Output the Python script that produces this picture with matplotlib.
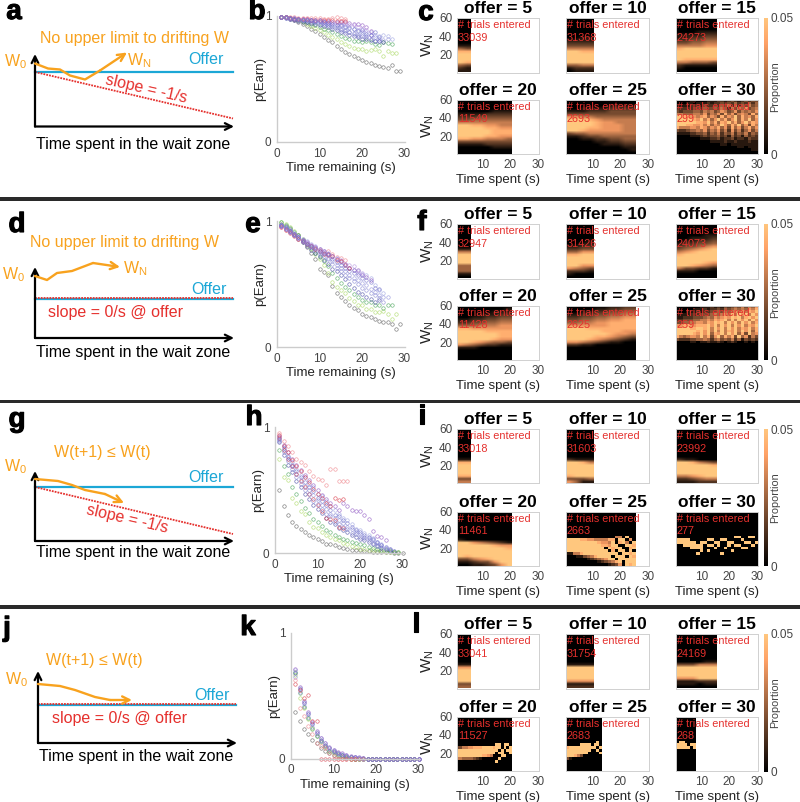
import matplotlib
matplotlib.use('Agg')
import matplotlib.pyplot as plt
import matplotlib.patheffects as pe
import numpy as np

plt.rcParams['font.family'] = ['Liberation Sans', 'DejaVu Sans']
plt.rcParams['mathtext.fontset'] = 'custom'
plt.rcParams['mathtext.rm'] = 'Liberation Sans'
plt.rcParams['mathtext.default'] = 'regular'

W, H = 800, 802
ORANGE = '#f8a21e'
BLUE = '#1ca7d6'
RED = '#e5302d'
GREY = '#444444'

# schematic drift curves (time, W), measured from each schematic's axis corner
a_time = [0, 13, 25, 35, 50, 65, 92]
a_w = [63, 58, 57, 51, 47, 56, 74]
d_time = [0, 12, 22, 37, 58, 85]
d_w = [62, 58, 65, 67, 75, 71]
g_time = [0, 23, 37, 50, 70, 89]
g_w = [62, 60, 56, 51, 47, 38]
j_time = [0, 22, 37, 57, 72, 94]
j_w = [59, 57, 53, 46, 43, 43]

# p(Earn) against time remaining, first value is at 1 s, one list per colour
curve_colors = ['#555555', '#a6d65a', '#3f9f4f', '#3c3f9f', '#8a8ad8', '#9aa0e0',
                '#8a4fc0', '#d62f3f', '#ee7f86']
b_colors = curve_colors + ['#7f7fd0', '#b08fe0', '#6a6ac8']
e_colors = curve_colors + ['#7f7fd0', '#b08fe0', '#6a6ac8']
h_colors = curve_colors + ['#d62f3f', '#7f7fd0', '#6a6ac8']
b_curves = [
    [.995, .99, .98, .97, .955, .94, .92, .90, .88, .86, .835, .81, .79, .76, .735, .715, .70, .68, .665, .65, .635, .63, .61, .60, .595, .59, .615, .56, .565],
    [.995, .99, .985, .975, .965, .95, .94, .92, .905, .885, .87, .85, .83, .815, .795, .775, .765, .75, .74, .735, .725, .73, .735, .72, .68, .72, .71, .71],
    [.995, .99, .985, .98, .97, .96, .95, .94, .93, .915, .90, .885, .87, .855, .84, .825, .815, .805, .80, .79, .80, .795, .78, .77, .79, .785, .78],
    [.995, .985, .975, .97, .96, .955, .95, .945, .94, .93, .92, .91, .90, .89, .875, .865, .85, .84, .83, .82, .815, .81, .80, .80, .79],
    [.995, .99, .985, .98, .975, .97, .965, .96, .955, .95, .94, .93, .92, .91, .90, .89, .875, .865, .85, .84, .84, .85, .83, .82, .81, .82],
    [.995, .99, .985, .985, .98, .975, .97, .965, .96, .955, .95, .945, .94, .93, .92, .92, .91, .90, .89, .875, .87, .87, .85, .84, .85, .84, .82],
    [.995, .99, .985, .985, .98, .98, .975, .97, .97, .965, .96, .96, .955, .95, .95, .95, .945, .94, .935, .93, .91, .88],
    [.995, .99, .985, .98, .98, .975, .975, .97, .97, .97, .97, .965, .965, .96, .96, .96],
    [.995, .995, .99, .99, .985, .985, .985, .985, .985, .985, .98, .98, .985, .99, .985, .98],
    [.995, .985, .98, .975, .97, .965, .96, .955, .95, .94, .935, .925, .915, .905, .89, .88, .87, .855, .845, .86, .83, .82, .80, .80],
    [.995, .99, .985, .985, .98, .975, .975, .97, .965, .965, .955, .955, .95, .945, .94, .935, .93, .925, .91, .90, .89, .85],
    [.995, .99, .985, .98, .975, .97, .97, .965, .96, .96, .955, .945, .94, .93, .93, .915, .905, .895, .88, .885, .86, .85, .87, .835],
]
e_curves = [
    [.98, .96, .94, .90, .885, .83, .79, .745, .70, .62, .595, .575, .485, .43, .40, .365, .335, .31, .29, .26, .25, .235, .22, .205, .20, .195, .18, .145, .185],
    [.995, .975, .95, .92, .89, .855, .81, .775, .74, .70, .65, .585, .515, .48, .45, .425, .39, .365, .335, .33, .305, .30, .275, .28, .285, .265, .22, .26],
    [.99, .97, .945, .91, .885, .85, .82, .785, .75, .715, .68, .64, .59, .55, .51, .48, .45, .42, .40, .375, .36, .36, .33, .33, .31, .33, .33],
    [.97, .95, .92, .89, .86, .83, .80, .77, .745, .72, .69, .66, .62, .60, .57, .54, .50, .47, .44, .42, .40, .38, .36, .37],
    [.97, .95, .93, .90, .875, .85, .825, .80, .78, .755, .735, .71, .68, .65, .625, .60, .575, .55, .53, .51, .49, .46, .44, .41, .40, .40],
    [.97, .95, .93, .905, .88, .86, .84, .815, .80, .78, .76, .74, .72, .70, .675, .65, .63, .61, .60, .58, .57, .55, .495, .45, .43],
    [.96, .94, .92, .90, .875, .85, .83, .81, .79, .775, .76, .74, .725, .70, .68, .66, .63, .615, .61, .57, .555, .53],
    [.95, .93, .905, .88, .86, .84, .815, .80, .78, .76, .74, .73, .72, .69, .68, .65, .63],
    [.95, .93, .91, .885, .86, .84, .82, .80, .785, .77, .75, .765, .74, .715, .71, .69],
    [.97, .945, .92, .895, .865, .84, .815, .79, .765, .74, .72, .695, .66, .625, .60, .57, .545, .52, .50, .47, .45, .43, .41, .39, .36],
    [.96, .935, .91, .885, .865, .845, .825, .805, .79, .77, .755, .745, .725, .705, .69, .66, .65, .64, .59, .585],
    [.96, .94, .915, .89, .87, .845, .82, .805, .785, .765, .75, .735, .70, .675, .65, .63, .60, .585, .57, .55, .53, .515, .47, .46],
]
h_curves = [
    [.50, .37, .30, .25, .215, .19, .17, .14, .125, .11, .095, .075, .07, .06, .05, .04, .03, .027, .02, .02, .015, .012, .01, .008, .006, .005, .004, .003, .002, .001],
    [.745, .605, .58, .44, .40, .335, .31, .245, .21, .195, .17, .14, .13, .11, .10, .08, .07, .055, .045, .035, .03, .025, .02, .015, .012, .01, .008, .006, .004],
    [.82, .69, .63, .525, .47, .41, .36, .315, .27, .25, .215, .18, .165, .145, .125, .11, .10, .09, .08, .07, .06, .05, .04, .03, .025, .02, .015, .01, .005],
    [.88, .78, .70, .64, .57, .52, .47, .43, .38, .35, .32, .28, .25, .23, .20, .18, .165, .145, .13, .11, .10, .085, .07, .055, .04, .035, .025, .015],
    [.92, .82, .77, .69, .63, .58, .53, .50, .46, .42, .38, .35, .31, .28, .26, .24, .21, .19, .17, .15, .13, .12, .10, .08, .06, .045, .03],
    [.90, .85, .75, .72, .67, .62, .60, .55, .52, .47, .45, .41, .37, .34, .31, .28, .26, .23, .19, .18, .16, .14, .12, .09, .07, .05],
    [.93, .86, .80, .75, .70, .66, .62, .58, .54, .50, .46, .43, .40, .37, .34, .40, .375, .345, .335, .335, .30, .27, .175, .135, .13, .10],
    [.94, .85, .80, .74, .69, .65, .60, .56, .51, .47, .44, .40, .37, .44, .42, .425],
    [.95, .89, .85, .80, .75, .72, .70, .65, .61, .59, .58, .54, .67, .67, .575, .575, .575],
    [.91, .82, .75, .69, .63, .57, .52, .47, .43, .38, .33, .275, .27, .26, .21, .20],
    [.89, .80, .73, .67, .60, .55, .50, .47, .41, .39, .35, .31, .29, .25, .23, .21, .19, .16, .15, .13, .12, .10, .08, .065, .05, .04, .03],
    [.905, .83, .76, .70, .65, .60, .56, .52, .49, .44, .41, .38, .34, .30, .29, .26, .235, .21, .18, .165, .145, .13, .11, .085, .065],
]
k_curves = [
    [.37, .295, .235, .195, .15, .125, .08, .06, .04, .03, .02, .01, .005, 0, 0, 0, 0, 0, 0, 0, 0, 0, 0, 0, 0, 0, 0, 0, 0, 0],
    [.66, .48, .40, .31, .24, .18, .13, .09, .06, .04, .03, .02, .01, 0, 0, 0, 0, 0, 0, 0, 0, 0, 0, 0, 0, 0, 0, 0, 0],
    [.69, .52, .41, .32, .235, .18, .135, .10, .06, .05, .035, .025, .015, .01, 0, 0, 0, 0, 0, 0, 0, 0, 0, 0, 0, 0, 0, 0, 0],
    [.68, .55, .44, .35, .27, .20, .15, .11, .08, .06, .045, .03, .02, .015, .01, .006, .003, 0, 0, 0, 0, 0, 0, 0, 0, 0, 0, 0, 0, 0],
    [.65, .53, .42, .33, .25, .19, .14, .10, .07, .05, .035, .025, .018, .01, .006, .003, 0, 0, 0, 0, 0, 0, 0, 0, 0, 0, 0, 0, 0, 0],
    [.70, .56, .45, .36, .28, .21, .16, .12, .085, .065, .045, .035, .025, .015, .01, .005, 0, 0, 0, 0, 0, 0, 0, 0, 0, 0, 0, 0, 0, 0],
    [.71, .57, .46, .37, .29, .22, .165, .125, .09, .07, .05, .04, .03, .02, .012, .008, .005, 0, 0, 0, 0, 0, 0, 0, 0, 0, 0, 0, 0, 0],
    [.595, .54, .48, .505, .295, .295, 0, 0, 0, 0, 0, 0, 0, 0, 0],
    [.62, .40, .34, .255, .195, .125, .10, .08, .04, .02, 0, 0, 0, 0, 0, 0, 0],
]

# Proportion heatmaps: digits 0-8 = 0-0.05 (9 is also full scale), rows run from W = 60 down to W = 0 in 3 unit steps
offers = [5, 10, 15, 20, 25, 30]
full_ends = [5.5, 10.5, 15.5, 20.5, 25.5, 30.5]
l_ends = [5.5, 10.5, 15.5, 20.5, 13.5, 7.5]
c_counts = ['33039', '31368', '24273', '11549', '2693', '299']
f_counts = ['32947', '31426', '24073', '11428', '2625', '259']
i_counts = ['33018', '31603', '23992', '11461', '2663', '277']
l_counts = ['33041', '31754', '24169', '11527', '2683', '268']

c_heat = [
    '00 00 00 00 00 00 00 00 00 00 11 43 77 88 99 99 87 43 21 11',
    '0000 0000 0000 0000 0000 0000 0000 0011 1111 2222 3333 5555 8877 9988 9999 9999 8888 4455 1222 0111',
    '000000 000000 000000 000000 000000 000111 111122 112233 223344 334455 555566 788888 999988 999988 999988 877777 554443 211111 100000 000000',
    '00000000 00000000 00000000 00000000 00000111 11112222 22233333 33444444 55555555 88776655 99887766 99998777 99988777 99887766 77665554 33333333 11112222 00000111 00000000 00000000',
    '0000000000 0000000000 0000001111 0011112222 1112223333 3333333333 6655444444 9987655555 9998766555 9998766655 9987766655 8876666655 3445555555 1123344444 0011223344 0000112233 0000011122 0000000011 0000000001 0000000000',
    '000011000111221232123233 000110111212232324232424 111122213223243525243534 222223324334354253546345 323334435453465346354546 554445546354637463565374 887766567465374658475647 999987685746857468475846 999988776857476857468576 988776675746586475846375 755566576465746374635746 322344546354635263524635 111122334243524352435243 000011123233423142314232 000000011122312231221322 000000000011112112111211 000000000000011011111111 000000000000000000110111 000000000000000000000011 000000000000000000000000',
]
f_heat = [
    '00 00 00 00 00 00 00 00 00 11 55 88 99 99 88 44 44 44 11 00',
    '0000 0000 0000 0000 0000 0000 0001 0011 1122 2233 4466 7788 9999 9999 9988 8866 6543 2221 1000 0000',
    '000000 000000 000000 000000 000011 001112 011223 122334 233456 345678 567899 789999 999999 999988 998876 887654 533221 111000 000000 000000',
    '00000000 00000001 00000111 00011122 00112233 11223344 22334455 44455566 77666666 99987777 99988877 99988877 99888766 88765443 65432211 11100000 00000000 00000000 00000000 00000000',
    '0000001122 0000112233 0011223344 1122334455 2233445566 3344556677 4455667777 6666667777 9987777777 9998877766 9999887665 9998776543 9987654321 6654321100 2211000000 0000000000 0000000000 0000000000 0000000000 0000000000',
    '000000011121213234353546 000001112122324345454657 000111212233435456565768 011122233345456575868596 112223334546567687957968 223334455657678595869586 334455665768795869586957 667766777869586958695768 998877887958695869576857 999988786958595768586947 999887696847695868473956 754566585736847573846253 322233445424534352413232 000011011211210121001010 000000000000000000000000 000000000000000000000000 000000000000000000000000 000000000000000000000000 000000000000000000000000 000000000000000000000000',
]
i_heat = [
    '00 00 00 00 00 00 00 00 00 00 00 11 77 99 99 99 99 77 33 55',
    '0000 0000 0000 0000 0000 0000 0000 0000 0000 0000 0000 2111 8875 9998 9999 9999 9999 7888 3334 6411',
    '000000 000000 000000 000000 000000 000000 000000 000000 000000 000000 000000 211000 987543 999987 999999 999999 889999 556789 223455 111222',
    '00000000 00000000 00000000 00000000 00000000 00000000 00000000 00000000 00000000 00000000 10000000 88654321 99988766 99999887 99999988 99999998 87889999 33567889 11233689 00112368',
    '00000000000000000000 00000000000000000000 00000000000000000000 00000000000000000000 00000000000000000000 00000000000000000000 00000000000000000000 00000000000000000000 00000000000000000000 00000000000000550900 99887766555577098060 99999988876659079508 99999999987769900987 99999999988097980079 88999999998907098090 11557888899889809978 00011345788980998097 00000012345688098999 00000000012345780989 00000000000012360879',
    '000000000000000000000000 000000000000000000000000 000000000000000000000000 000000000000000000000000 000000000000000000000000 000000000000000000000000 000000000000000000000000 000000000000000000000000 000000000000000000000000 000000000000000009900990 999900000990099000090000 999999099009900990009909 009999990990900909900090 000099990009009000099000 000000090900000090000000 000000900000090000000000 000000000000000000000000 000000000000000000000000 000000000000000000000000 000000000000000000000000',
]
l_heat = [
    '00 00 00 00 00 00 00 00 00 00 00 11 66 99 99 99 99 88 33 44',
    '0000 0000 0000 0000 0000 0000 0000 0000 0000 0000 0000 1111 8888 9999 9999 9999 9999 6666 1111 2222',
    '000000 000000 000000 000000 000000 000000 000000 000000 000000 000000 000011 333555 999999 999999 999999 999999 666888 111222 111011 000000',
    '00000000000000000000 00000000000000000000 00000000000000000000 00000000000000000000 00000000000000000000 00000000000000000000 00000000000000000000 00000000000000000000 00000000000000000000 00000000000000000000 00000000000000990990 33556677788887990909 99999999999999809099 99999999999998099009 99999999877650009900 55444432100000090000 00000000000000900000 00000000000000000000 00000000000000000000 00000000000000000000',
    '0000000000000 0000000000000 0000000000000 0000000000000 0000000000000 0000000000000 0000000000000 0000000000000 0000000000000 0000000000090 0000099990990 7899999999909 9999999990090 9999999900009 9997530000000 3100000000000 0000000000000 0000000000000 0000000000000 0000000000000',
    '0000000 0000000 0000000 0000000 0000000 0000000 0000000 0000000 0000000 0990000 9999099 9999909 0000000 0000000 0000000 0000000 0000000 0000000 0000000 0000000',
]
c_interp = ['bilinear', 'bilinear', 'bilinear', 'bilinear', 'bilinear', 'nearest']
f_interp = ['bilinear', 'bilinear', 'bilinear', 'bilinear', 'bilinear', 'nearest']
i_interp = ['bilinear', 'bilinear', 'bilinear', 'bilinear', 'nearest', 'nearest']
l_interp = ['bilinear', 'bilinear', 'bilinear', 'nearest', 'nearest', 'nearest']


def px_axes(left, top, right, bottom):
    return fig.add_axes([left / W, 1 - bottom / H, (right - left) / W, (bottom - top) / H])


def schematic(x0, y0, top, right, offer_h, red_h0, red_h1, wt, wv):
    ax = px_axes(x0, top, right, y0)
    ax.set_xlim(0, right - x0)
    ax.set_ylim(0, y0 - top)
    ax.axis('off')
    ax.plot(wt[:-1], wv[:-1], color=ORANGE, lw=1.7, clip_on=False, solid_capstyle='round', zorder=4)
    ax.annotate('', xy=(wt[-1], wv[-1]), xytext=(wt[-2], wv[-2]), annotation_clip=False,
                arrowprops=dict(arrowstyle='->', color=ORANGE, lw=1.7, shrinkA=0, shrinkB=0,
                                mutation_scale=13), zorder=4)
    ax.plot([0, right - x0], [offer_h, offer_h], color=BLUE, lw=1.6, clip_on=False)
    ax.plot([0, right - x0], [red_h0, red_h1], color=RED, lw=1.3, ls=(0, (1, 0.6)), clip_on=False)
    for tip in [(0, y0 - top + 1), (right - x0 + 1, 0)]:
        ax.annotate('', xy=tip, xytext=(0, 0), annotation_clip=False,
                    arrowprops=dict(arrowstyle='->', color='black', lw=1.6, shrinkA=0, shrinkB=0,
                                    mutation_scale=12))


def scatter_panel(left, top, curves, colors):
    ax = px_axes(left, top, left + 127.5, top + 126)
    for vals, col in zip(curves, colors):
        t = np.arange(1, len(vals) + 1)
        ax.plot(t, vals, 'o', ms=2.5, mfc='none', mec=col, mew=0.45, alpha=0.8, clip_on=False)
    ax.set_xlim(0, 30)
    ax.set_ylim(0, 1)
    ax.set_xticks([0, 10, 20, 30])
    ax.set_yticks([0, 1])
    for s in ['top', 'right']:
        ax.spines[s].set_visible(False)
    for s in ['left', 'bottom']:
        ax.spines[s].set_color('#cccccc')
        ax.spines[s].set_linewidth(1)
    ax.tick_params(length=0, labelsize=8.5, labelcolor=GREY, pad=4)
    ax.set_xlabel('Time remaining (s)', fontsize=9.5, color='#222222', labelpad=2)
    ax.set_ylabel('p(Earn)', fontsize=9.5, color='#222222', labelpad=-1)


def heat_group(top1, top2, heat, counts, ends, interp):
    cols = [(457, 539), (566, 649), (676, 758)]
    for n in range(6):
        left, right = cols[n % 3]
        top = top1 if n < 3 else top2
        ax = px_axes(left, top, right, top + 54.5)
        grid = np.array([[min(int(ch), 8) for ch in row] for row in heat[n].split()]) / 8 * 0.05
        ax.imshow(grid, cmap='copper', vmin=0, vmax=0.05, aspect='auto',
                  extent=[0.5, ends[n], 1, 60], interpolation=interp[n])
        ax.set_xlim(0.5, 30.5)
        ax.set_ylim(1, 60)
        ax.set_yticks([20, 40, 60] if n % 3 == 0 else [])
        ax.set_xticks([10, 20, 30] if n >= 3 else [])
        for s in ax.spines.values():
            s.set_color('#d0d0d0')
            s.set_linewidth(0.7)
        ax.tick_params(length=0, labelsize=8.5, labelcolor=GREY, pad=3.5)
        ax.set_title('offer = %d' % offers[n], fontsize=12.5, fontweight='bold', pad=3.5)
        ax.text(0.012, 0.87, '# trials entered', transform=ax.transAxes, color=RED,
                fontsize=7.8, va='center', ha='left')
        ax.text(0.012, 0.635, counts[n], transform=ax.transAxes, color=RED,
                fontsize=7.8, va='center', ha='left')
        if n % 3 == 0:
            ax.set_ylabel('W$_N$', fontsize=11, color='#222222', labelpad=2)
        if n >= 3:
            ax.set_xlabel('Time spent (s)', fontsize=9.5, color='#222222', labelpad=2)
    # colour bar
    cb = px_axes(764, top1, 767.5, top2 + 55)
    cb.imshow(np.linspace(0.05, 0, 256)[:, None], cmap='copper', aspect='auto',
              extent=[0, 1, 0, 0.05])
    cb.set_xticks([])
    cb.yaxis.tick_right()
    cb.set_yticks([0, 0.05])
    cb.set_yticklabels(['0', '0.05'])
    cb.tick_params(length=0, labelsize=8.5, labelcolor=GREY, pad=2)
    for s in cb.spines.values():
        s.set_visible(False)
    over.text(775, (top1 + top2 + 55) / 2, 'Proportion', rotation=90, fontsize=7.8, color=GREY,
              ha='center', va='center')


fig = plt.figure(figsize=(W / 100, H / 100), dpi=100)

# full page layer for separators, letters and schematic labels, in pixels
over = fig.add_axes([0, 0, 1, 1], zorder=10)
over.set_xlim(0, W)
over.set_ylim(H, 0)
over.axis('off')
over.patch.set_alpha(0)

for y0, y1 in [(197, 201), (399.5, 403), (605, 608.5)]:
    over.fill_between([0, W], y0, y1, color='#2a2a2a', lw=0)

schematic(35, 126.5, 55, 233, 55, 54.5, 8, a_time, a_w)
schematic(35, 338, 268, 233, 39, 40, 40, d_time, d_w)
schematic(35, 541, 472, 233, 54, 54, 7, g_time, g_w)
schematic(38, 743, 672, 236, 38, 39, 39, j_time, j_w)

labels = [
    (135, 38, 'No upper limit to drifting W', ORANGE, 0),
    (206, 60, 'Offer', BLUE, 0),
    (146, 89, 'slope = -1/s', RED, -13),
    (124, 242, 'No upper limit to drifting W', ORANGE, 0),
    (209, 290, 'Offer', BLUE, 0),
    (116, 313, 'slope = 0/s @ offer', RED, 0),
    (102, 452, 'W(t+1) ≤ W(t)', ORANGE, 0),
    (206, 477, 'Offer', BLUE, 0),
    (127, 519, 'slope = -1/s', RED, -13),
    (94, 660, 'W(t+1) ≤ W(t)', ORANGE, 0),
    (212, 696, 'Offer', BLUE, 0),
    (119, 719, 'slope = 0/s @ offer', RED, 0),
]
for x, y, s, col, rot in labels:
    over.text(x, y, s, color=col, rotation=rot, fontsize=11.5, ha='center', va='center')
for x, y in [(133, 145), (133, 352), (133, 552), (136, 756)]:
    over.text(x, y, 'Time spent in the wait zone', fontsize=11.5, ha='center', va='center')
for x, y, s in [(16, 62, 'W$_0$'), (139, 61, 'W$_N$'), (14, 275, 'W$_0$'), (135, 269, 'W$_N$'),
                (16, 467, 'W$_0$'), (17, 680, 'W$_0$')]:
    over.text(x, y, s, color=ORANGE, fontsize=11.5, ha='center', va='center')

letters = [(14, 12, 'a'), (257, 12, 'b'), (426, 13, 'c'), (17, 225, 'd'), (253, 225, 'e'),
           (422, 223, 'f'), (17, 420, 'g'), (254, 418, 'h'), (422, 417, 'i'), (7, 629, 'j'),
           (248, 628, 'k'), (416, 625, 'l')]
for x, y, s in letters:
    over.text(x, y, s, fontsize=20, fontweight='bold', ha='center', va='center',
              path_effects=[pe.withStroke(linewidth=0.8, foreground='black')])

scatter_panel(277, 16, b_curves, b_colors)
scatter_panel(277, 221, e_curves, e_colors)
scatter_panel(275, 427, h_curves, h_colors)
scatter_panel(291, 632.5, k_curves, curve_colors)

heat_group(18, 99.5, c_heat, c_counts, full_ends, c_interp)
heat_group(224, 305.5, f_heat, f_counts, full_ends, f_interp)
heat_group(429, 511.5, i_heat, i_counts, full_ends, i_interp)
heat_group(634, 716.5, l_heat, l_counts, l_ends, l_interp)

fig.savefig('out.png', dpi=100)
